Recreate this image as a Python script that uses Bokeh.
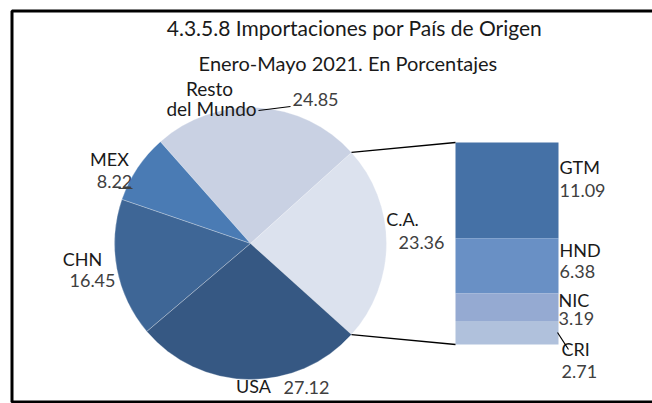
import math
from bokeh.plotting import figure
from bokeh.models import Range1d, ColumnDataSource
from bokeh.embed import file_html
from bokeh.resources import INLINE
from bokeh.core.properties import value

# ---------------- data ----------------
title = "4.3.5.8 Importaciones por País de Origen"
subtitle = "Enero-Mayo  2021. En Porcentajes"

pie_categories = ["C.A.", "Resto del Mundo", "MEX", "CHN", "USA"]
pie_values = [23.36, 24.85, 8.22, 16.45, 27.12]
pie_colors = ["#dce2ee", "#c9d1e3", "#4a7bb4", "#3e6696", "#365883"]

ca_categories = ["GTM", "HND", "NIC", "CRI"]
ca_values = [11.09, 6.38, 3.19, 2.71]
ca_colors = ["#4571a6", "#6990c5", "#95aad2", "#b0c1dc"]

# ---------------- layout (screen px) ----------------
W, H = 652, 403
X0, Y0 = 0, 0


def sy(y):  # screen y -> data y
    return (Y0 + H) - y


p = figure(width=W, height=H, output_backend="svg", toolbar_location=None,
           x_range=Range1d(X0, X0 + W), y_range=Range1d(0, H),
           min_border=0, outline_line_color=None)
p.axis.visible = False
p.grid.visible = False
p.background_fill_color = "white"
p.border_fill_color = "white"

FONT = value("Lato")

# frame
p.line(x=[700, 11.5, 11.5, 700], y=[sy(10.5), sy(10.5), sy(401.5), sy(401.5)],
       line_color="black", line_width=3)

# pie
cx, cy, r = 250, sy(243), 136
total = sum(pie_values)
start = -pie_values[0] / total * math.pi
starts, ends = [], []
a = start
for v in pie_values:
    starts.append(a)
    a += v / total * 2 * math.pi
    ends.append(a)
src = ColumnDataSource(dict(start=starts, end=ends, color=pie_colors, cat=pie_categories))
p.wedge(x=cx, y=cy, radius=r, start_angle="start", end_angle="end",
        fill_color="color", line_color="white", line_alpha=0.45, line_width=0.6, source=src)

# stacked bar for C.A.
bx0, bx1 = 455, 558
btop, bbot = sy(142), sy(344)
ca_total = sum(ca_values)
scale = (btop - bbot) / ca_total
tops, bots = [], []
t = btop
for v in ca_values:
    tops.append(t)
    t -= v * scale
    bots.append(t)
p.quad(left=bx0, right=bx1, top=tops, bottom=bots, fill_color=ca_colors, line_color=None)

# connector lines from C.A. wedge edges to bar
ca_a0, ca_a1 = starts[0], ends[0]
p.line(x=[cx + r * math.cos(ca_a1), bx0], y=[cy + r * math.sin(ca_a1), btop], line_color="black", line_width=1.3)
p.line(x=[cx + r * math.cos(ca_a0), bx0], y=[cy + r * math.sin(ca_a0), bbot], line_color="black", line_width=1.3)

# titles
p.text(x=[354], y=[sy(27)], text=[title], text_font=FONT, text_font_size="21px",
       text_align="center", text_baseline="middle", text_color="#1a1a1a")
p.text(x=[350], y=[sy(62)], text=[subtitle], text_font=FONT, text_font_size="20px",
       text_align="center", text_baseline="middle", text_color="#1a1a1a")

# labels
def label(x, y, txt, color="#1a1a1a", align="left", size="18px"):
    p.text(x=[x], y=[sy(y)], text=[txt], text_font=FONT, text_font_size=size,
           text_align=align, text_baseline="middle", text_color=color)

NUM = "#404040"
label(209, 88, "Resto", align="center", size="19px")
label(211, 108, "del Mundo", align="center", size="19px")
label(292, 99, "24.85", color=NUM)
label(109, 158, "MEX", align="center")
label(114, 181, "8.22", color=NUM, align="center")
label(82, 258, "CHN", align="center")
label(92, 280, "16.45", color=NUM, align="center")
label(253, 385, "USA", align="center")
label(306, 387, "27.12", color=NUM, align="center")
label(402, 218, "C.A.", align="center")
label(421, 242, "23.36", color=NUM, align="center")

# bar labels
label(559, 166, "GTM")
label(559, 190, "11.09", color=NUM)
label(559, 249, "HND")
label(559, 271, "6.38", color=NUM)
label(558, 299, "NIC")
label(558, 318, "3.19", color=NUM)
label(561, 348, "CRI")
label(561, 371, "2.71", color=NUM)

# leader lines
p.line(x=[258, 290], y=[sy(110), sy(106)], line_color="black", line_width=1.2)
p.line(x=[118, 132], y=[sy(188), sy(188)], line_color="#404040", line_width=1)
p.line(x=[557, 568], y=[sy(332), sy(349)], line_color="black", line_width=1.2)

open("out.html", "w").write(file_html(p, INLINE))
